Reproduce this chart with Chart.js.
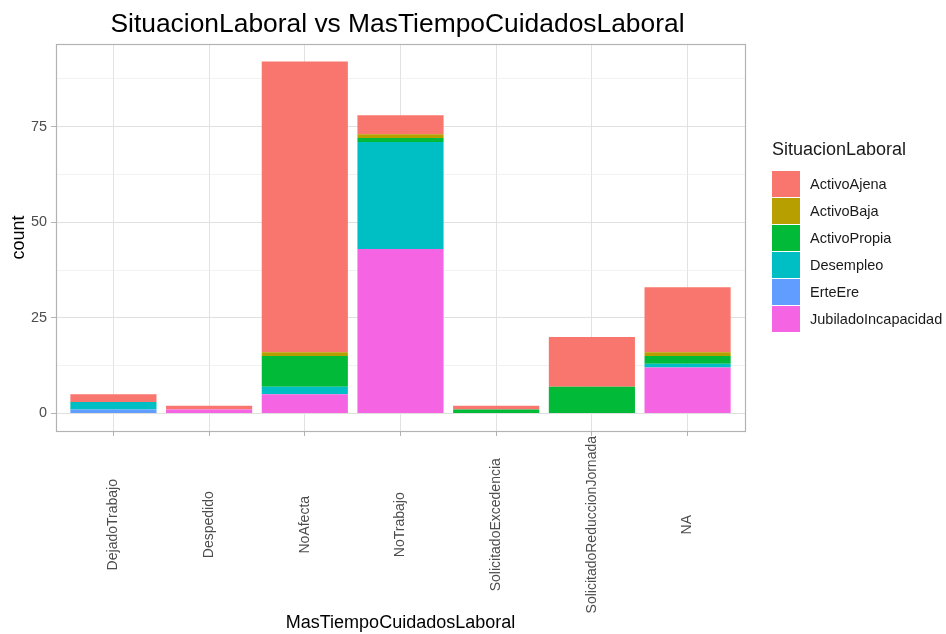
<!DOCTYPE html>
<html>
<head>
<meta charset="utf-8">
<script src="https://cdn.jsdelivr.net/npm/chart.js@4"></script>
<style>
    body { margin: 0; background: #ffffff; }
    #wrap { position: relative; width: 946px; height: 634px; font-family: "Liberation Sans", Arial, sans-serif; }
    #legende { position: absolute; left: 772px; top: 139px; color: #1a1a1a; }
    #legende .titel { font-size: 18px; height: 31px; }
    #legende .zeile { height: 27px; display: flex; align-items: center; font-size: 14.5px; white-space: nowrap; }
    #legende .box { width: 28px; height: 26px; margin-right: 10px; }
</style>
</head>
<body>
<div id="wrap">
    <canvas id="chart" width="946" height="634"></canvas>
    <div id="legende"></div>
</div>
<script>
var kategorien = ["DejadoTrabajo", "Despedido", "NoAfecta", "NoTrabajo", "SolicitadoExcedencia", "SolicitadoReduccionJornada", "NA"];

// stack order: first one sits at the bottom
var serien = ["JubiladoIncapacidad", "ErteEre", "Desempleo", "ActivoPropia", "ActivoBaja", "ActivoAjena"];
var jubilado     = [0, 1, 5, 43, 0, 0, 12];
var erte         = [1, 0, 0, 0, 0, 0, 0];
var desempleo    = [2, 0, 2, 28, 0, 0, 1];
var activoPropia = [0, 0, 8, 1, 1, 7, 2];
var activoBaja   = [0, 0, 1, 1, 0, 0, 1];
var activoAjena  = [2, 1, 76, 5, 1, 13, 17];
var werte = [jubilado, erte, desempleo, activoPropia, activoBaja, activoAjena];
var farben = ["#F564E3", "#619CFF", "#00BFC4", "#00BA38", "#B79F00", "#F8766D"];

var y_ticks = [0, 25, 50, 75];
var schrift = '"Liberation Sans", Arial, sans-serif';

var datasets = [];
for (var i = 0; i < serien.length; i++) {
    datasets.push({
        label: serien[i],
        data: werte[i],
        backgroundColor: farben[i],
        borderWidth: 0,
        barPercentage: 0.9,
        categoryPercentage: 1
    });
}

// panel border, title and the rotated category labels
var rahmen = {
    id: "rahmen",
    afterDraw: function(chart) {
        var ctx = chart.ctx;
        var a = chart.chartArea;
        var xs = chart.scales.x;
        ctx.save();
        ctx.strokeStyle = "#b3b3b3";
        ctx.lineWidth = 1.2;
        ctx.strokeRect(Math.round(a.left) + 0.5, Math.round(a.top) + 0.5, Math.round(a.right - a.left), Math.round(a.bottom - a.top));

        ctx.fillStyle = "#000000";
        ctx.font = "26.4px " + schrift;
        ctx.textAlign = "center";
        ctx.textBaseline = "alphabetic";
        ctx.fillText("SituacionLaboral vs MasTiempoCuidadosLaboral", (a.left + a.right) / 2 - 3, 32);

        ctx.font = "14px " + schrift;
        ctx.fillStyle = "#4d4d4d";
        var maxW = 0;
        kategorien.forEach(function(k) { maxW = Math.max(maxW, ctx.measureText(k).width); });
        var mitte = a.bottom + 5 + maxW / 2;
        kategorien.forEach(function(k, i) {
            ctx.save();
            ctx.translate(xs.getPixelForValue(i), mitte);
            ctx.rotate(-Math.PI / 2);
            ctx.textAlign = "center";
            ctx.textBaseline = "middle";
            ctx.fillText(k, 0, 0);
            ctx.restore();
        });
        ctx.restore();
    }
};

var ctx = document.getElementById("chart").getContext("2d");
var myChart = new Chart(ctx, {
    type: "bar",
    data: {
        labels: kategorien.map(function(k, i) { return i; }),
        datasets: datasets
    },
    options: {
        responsive: false,
        animation: false,
        layout: { padding: { top: 44, right: 201, left: 0, bottom: 0 } },
        plugins: {
            legend: { display: false },
            tooltip: { enabled: false }
        },
        scales: {
            x: {
                type: "linear",
                stacked: true,
                offset: false,
                min: -0.6,
                max: 6.6,
                afterBuildTicks: function(s) {
                    s.ticks = kategorien.map(function(k, i) { return { value: i }; });
                },
                afterFit: function(s) { s.height = 203; },
                ticks: { display: false },
                grid: { offset: false, color: "#e2e2e2", lineWidth: 1, tickLength: 5, tickColor: "#b3b3b3" },
                border: { display: false },
                title: {
                    display: true,
                    text: "MasTiempoCuidadosLaboral",
                    color: "#000000",
                    font: { family: schrift, size: 18 },
                    padding: { top: 0, bottom: 0 }
                }
            },
            y: {
                stacked: true,
                min: -4.6,
                max: 96.6,
                afterBuildTicks: function(s) {
                    var t = [];
                    for (var v = 0; v <= 87.5; v += 12.5) t.push({ value: v });
                    s.ticks = t;
                },
                afterFit: function(s) { s.width = 56; },
                ticks: {
                    color: "#4d4d4d",
                    font: { family: schrift, size: 14.4 },
                    padding: 4,
                    callback: function(v) { return y_ticks.indexOf(v) >= 0 ? v : ""; }
                },
                grid: {
                    color: function(c) { return y_ticks.indexOf(c.tick.value) >= 0 ? "#e0e0e0" : "#ececec"; },
                    lineWidth: function(c) { return y_ticks.indexOf(c.tick.value) >= 0 ? 1 : 0.7; },
                    tickLength: 5,
                    tickColor: function(c) { return y_ticks.indexOf(c.tick.value) >= 0 ? "#b3b3b3" : "rgba(0,0,0,0)"; }
                },
                border: { display: false },
                title: {
                    display: true,
                    text: "count",
                    color: "#000000",
                    font: { family: schrift, size: 18 },
                    padding: { top: 8, bottom: 0 }
                }
            }
        }
    },
    plugins: [rahmen]
});

// legend like ggplot: ActivoAjena on top
var legende = document.getElementById("legende");
var html = '<div class="titel">SituacionLaboral</div>';
for (var j = serien.length - 1; j >= 0; j--) {
    html += '<div class="zeile"><span class="box" style="background:' + farben[j] + '"></span>' + serien[j] + '</div>';
}
legende.innerHTML = html;
</script>
</body>
</html>
